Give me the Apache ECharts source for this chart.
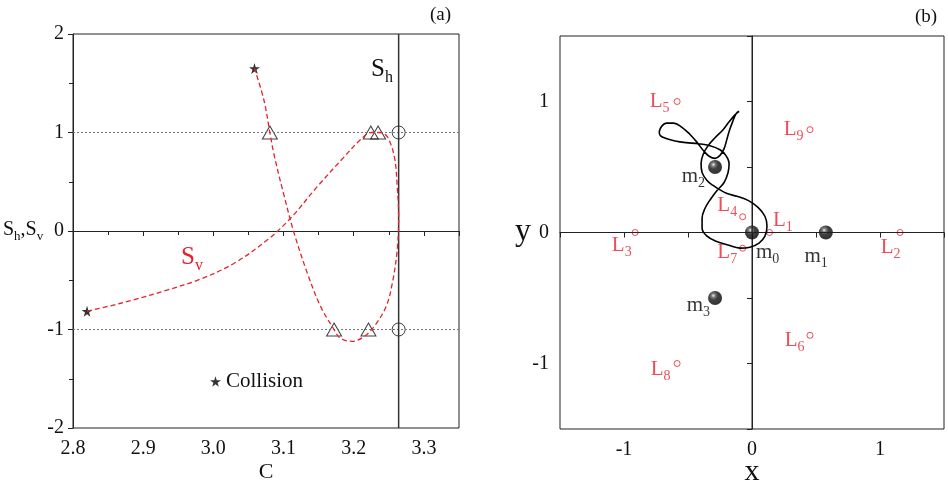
<!DOCTYPE html>
<html>
<head>
<meta charset="utf-8">
<script src="https://cdn.jsdelivr.net/npm/echarts@6/dist/echarts.min.js"></script>
<style>
  html, body { margin: 0; padding: 0; background: #fff; }
  #chart { width: 948px; height: 481px; }
</style>
</head>
<body>
<div id="chart"></div>
<script>
// ---- panel (a): S_v curve against C ----
const svCurve = [
  [2.82, -0.814], [2.85, -0.765], [2.886, -0.70], [2.934, -0.60], [2.981, -0.49],
  [3.029, -0.33], [3.077, -0.09], [3.110, 0.13], [3.148, 0.45], [3.186, 0.75],
  [3.210, 0.93], [3.225, 1.0], [3.238, 1.0], [3.248, 0.955], [3.258, 0.75],
  [3.262, 0.45], [3.264, 0.145], [3.262, -0.19], [3.255, -0.53], [3.246, -0.77],
  [3.229, -0.97], [3.215, -1.07], [3.198, -1.12], [3.181, -1.09], [3.172, -1.0],
  [3.153, -0.77], [3.134, -0.43], [3.115, -0.02], [3.100, 0.38], [3.086, 0.79],
  [3.0805, 1.0], [3.072, 1.33], [3.0586, 1.65]
];
const collisionPts = [[2.82, -0.814], [3.0586, 1.65]];
const triangleC = [3.0805, 3.2243, 3.2347, 3.172, 3.221];
const triangleS = [1, 1, 1, -1, -1];
const circleC = [3.264, 3.264];
const circleS = [1, -1];
const shC = 3.264;
const stabilityLevels = [1, -1];
const aRangeC = [2.8, 3.35];
const aRangeS = [-2, 2];

// ---- panel (b): orbit in the x-y plane ----
const orbit = [
  [-0.725, 0.769], [-0.705, 0.812], [-0.668, 0.835], [-0.612, 0.835], [-0.550, 0.805],
  [-0.486, 0.750], [-0.429, 0.688], [-0.382, 0.628], [-0.335, 0.582], [-0.289, 0.566],
  [-0.250, 0.589], [-0.218, 0.640], [-0.195, 0.716], [-0.172, 0.792], [-0.148, 0.853],
  [-0.125, 0.906], [-0.101, 0.925], [-0.133, 0.898], [-0.179, 0.845], [-0.226, 0.784],
  [-0.289, 0.723], [-0.343, 0.663], [-0.382, 0.595], [-0.398, 0.526], [-0.390, 0.458],
  [-0.351, 0.397], [-0.304, 0.359], [-0.257, 0.329], [-0.195, 0.298], [-0.117, 0.276],
  [-0.031, 0.245], [0.047, 0.192], [0.101, 0.124], [0.117, 0.048], [0.101, -0.028],
  [0.055, -0.081], [-0.016, -0.112], [-0.094, -0.119], [-0.187, -0.096], [-0.281, -0.066],
  [-0.351, -0.028], [-0.390, 0.033], [-0.390, 0.109], [-0.367, 0.185], [-0.320, 0.260],
  [-0.273, 0.321], [-0.218, 0.382], [-0.187, 0.458], [-0.179, 0.526], [-0.203, 0.587],
  [-0.250, 0.632], [-0.328, 0.663], [-0.421, 0.678], [-0.515, 0.686], [-0.601, 0.699],
  [-0.671, 0.718], [-0.716, 0.740], [-0.725, 0.769]
];
const massNames = ["0", "1", "2", "3"];
const massX = [0, 0.577, -0.2887, -0.2887];
const massY = [0, 0, 0.5, -0.5];
const lagNames = ["1", "2", "3", "4", "5", "6", "7", "8", "9"];
const lagX = [0.137, 1.157, -0.913, -0.073, -0.585, 0.453, -0.073, -0.585, 0.453];
const lagY = [0, 0, 0, 0.12, 1.0, -0.785, -0.12, -1.0, 0.785];
const bRange = [-1.5, 1.5];

// label placement: [position, distance, offset]
const lagLabelPlace = {
  "1": ["right", 0, [0, -12]],
  "2": ["left", -4, [0, 15]],
  "3": ["left", 0, [0, 13]],
  "4": ["left", 2, [0, -11]],
  "5": ["left", 4, [0, 0]],
  "6": ["left", 2, [0, 5]],
  "7": ["left", 2, [0, 4]],
  "8": ["left", 3, [0, 6]],
  "9": ["left", 3, [0, 0]]
};
const massLabelPlace = {
  "0": ["right", -3, [0, 20]],
  "1": ["left", -9, [0, 24]],
  "2": ["left", 3, [0, 9]],
  "3": ["left", -2, [0, 7]]
};

const FONT = "Liberation Serif";
const RED = "#e8202e";
const STAR = "path://M50,0 L61,35 L98,35 L68,57 L79,91 L50,70 L21,91 L32,57 L2,35 L39,35 Z";

// rich styles for series labels (use color)
function subRich(size, subSize, color) {
  return {
    a: { fontFamily: FONT, fontSize: size, lineHeight: size + 7, color: color, verticalAlign: "middle" },
    s: { fontFamily: FONT, fontSize: subSize, lineHeight: subSize, color: color, verticalAlign: "bottom" }
  };
}
// rich styles for graphic text (use fill)
function subRichG(size, subSize, color) {
  return {
    a: { fontFamily: FONT, fontSize: size, lineHeight: size + 7, fill: color, verticalAlign: "middle" },
    s: { fontFamily: FONT, fontSize: subSize, lineHeight: subSize, fill: color, verticalAlign: "bottom" }
  };
}

const chart = echarts.init(document.getElementById("chart"));

const axisCommon = {
  axisLine: { show: true, lineStyle: { color: "#222", width: 1 } },
  axisTick: { show: true, inside: false, length: 5, lineStyle: { color: "#222" } },
  splitLine: { show: false },
  axisLabel: { fontFamily: FONT, fontSize: 20, color: "#111", margin: 9 }
};

const option = {
  animation: false,
  backgroundColor: "#fff",
  grid: [
    { left: 73, top: 34, width: 386, height: 394, outerBoundsMode: "none", show: true, borderColor: "#222", borderWidth: 1 },
    { left: 560, top: 36, width: 384, height: 393, outerBoundsMode: "none", show: true, borderColor: "#222", borderWidth: 1 }
  ],
  legend: {
    data: [{ name: "Collision", icon: STAR }],
    left: 205,
    top: 366,
    itemWidth: 11,
    itemHeight: 11,
    textStyle: { fontFamily: FONT, fontSize: 21, color: "#111" }
  },
  xAxis: [
    Object.assign({}, axisCommon, {
      gridIndex: 0, type: "value", min: aRangeC[0], max: aRangeC[1], interval: 0.1,
      minorTick: { show: true, splitNumber: 2, length: 4, lineStyle: { color: "#222" } },
      axisLabel: Object.assign({}, axisCommon.axisLabel, {
        margin: 11,
        formatter: v => (Math.abs(v - aRangeC[1]) < 1e-6 ? "" : v.toFixed(1))
      }),
      name: "C", nameLocation: "middle", nameGap: 33, nameMoveOverlap: false,
      nameTextStyle: { fontFamily: FONT, fontSize: 22, color: "#111" }
    }),
    Object.assign({}, axisCommon, {
      gridIndex: 1, type: "value", min: bRange[0], max: bRange[1], interval: 0.5,
      axisLabel: Object.assign({}, axisCommon.axisLabel, {
        margin: 11,
        formatter: v => (Math.abs(v - Math.round(v)) < 1e-6 ? String(Math.round(v)) : "")
      }),
      name: "x", nameLocation: "middle", nameGap: 28, nameMoveOverlap: false,
      nameTextStyle: { fontFamily: FONT, fontSize: 30, color: "#111" }
    })
  ],
  yAxis: [
    Object.assign({}, axisCommon, {
      gridIndex: 0, type: "value", min: aRangeS[0], max: aRangeS[1], interval: 1,
      minorTick: { show: true, splitNumber: 2, length: 4, lineStyle: { color: "#222" } }
    }),
    Object.assign({}, axisCommon, {
      gridIndex: 1, type: "value", min: bRange[0], max: bRange[1], interval: 0.5,
      axisLabel: Object.assign({}, axisCommon.axisLabel, {
        margin: 11,
        formatter: v => (Math.abs(v - Math.round(v)) < 1e-6 ? String(Math.round(v)) : "")
      })
    })
  ],
  graphic: [
    { type: "text", left: 430, top: 6, style: { text: "(a)", fontFamily: FONT, fontSize: 19, fill: "#111" } },
    { type: "text", left: 915, top: 8, style: { text: "(b)", fontFamily: FONT, fontSize: 19, fill: "#111" } },
    {
      type: "text", left: 3, top: 220,
      style: { text: "{a|S}{s|h}{a|,S}{s|v}", rich: subRichG(20, 13, "#111") }
    },
    {
      type: "text", left: 371, top: 57,
      style: { text: "{a|S}{s|h}", rich: subRichG(25, 16, "#111") }
    },
    {
      type: "text", left: 181, top: 245,
      style: { text: "{a|S}{s|v}", rich: subRichG(25, 16, RED) }
    },
    { type: "text", left: 515, top: 216, style: { text: "y", fontFamily: FONT, fontSize: 32, fill: "#111" } }
  ],
  series: [
    {
      type: "line", xAxisIndex: 0, yAxisIndex: 0, symbol: "none", silent: true,
      data: [[aRangeC[0], stabilityLevels[0]], [aRangeC[1], stabilityLevels[0]]],
      lineStyle: { color: "#777", width: 1, type: [2, 2] }
    },
    {
      type: "line", xAxisIndex: 0, yAxisIndex: 0, symbol: "none", silent: true,
      data: [[aRangeC[0], stabilityLevels[1]], [aRangeC[1], stabilityLevels[1]]],
      lineStyle: { color: "#777", width: 1, type: [2, 2] }
    },
    {
      type: "line", xAxisIndex: 0, yAxisIndex: 0, symbol: "none", silent: true,
      data: [[shC, aRangeS[0]], [shC, aRangeS[1]]],
      lineStyle: { color: "#333", width: 1.5 }
    },
    {
      type: "line", xAxisIndex: 0, yAxisIndex: 0, symbol: "none", smooth: 0.35, silent: true,
      data: svCurve,
      lineStyle: { color: RED, width: 1.3, type: [5, 3] }
    },
    {
      type: "scatter", xAxisIndex: 0, yAxisIndex: 0, symbol: "triangle", symbolSize: [15, 13],
      data: triangleC.map((c, i) => [c, triangleS[i]]),
      itemStyle: { color: "rgba(0,0,0,0)", borderColor: "#111", borderWidth: 1 }
    },
    {
      type: "scatter", xAxisIndex: 0, yAxisIndex: 0, symbol: "circle", symbolSize: 13,
      data: circleC.map((c, i) => [c, circleS[i]]),
      itemStyle: { color: "rgba(0,0,0,0)", borderColor: "#111", borderWidth: 1 }
    },
    {
      name: "Collision",
      type: "scatter", xAxisIndex: 0, yAxisIndex: 0, symbol: STAR, symbolSize: 11,
      data: collisionPts,
      itemStyle: { color: "#000" }
    },
    // panel (b)
    {
      type: "line", xAxisIndex: 1, yAxisIndex: 1, symbol: "none", silent: true,
      data: [[bRange[0], 0], [bRange[1], 0]],
      lineStyle: { color: "#222", width: 1 }
    },
    {
      type: "line", xAxisIndex: 1, yAxisIndex: 1, symbol: "none", silent: true,
      data: [[0, bRange[0]], [0, bRange[1]]],
      lineStyle: { color: "#222", width: 1 }
    },
    {
      type: "line", xAxisIndex: 1, yAxisIndex: 1, symbol: "none", smooth: 0.4, silent: true,
      data: orbit,
      lineStyle: { color: "#000", width: 1.6 }
    },
    {
      type: "scatter", xAxisIndex: 1, yAxisIndex: 1, symbol: "circle", symbolSize: 6,
      itemStyle: { color: "#fff", borderColor: RED, borderWidth: 1 },
      data: lagNames.map((n, i) => {
        const p = lagLabelPlace[n];
        return {
          value: [lagX[i], lagY[i]],
          label: {
            show: true, position: p[0], distance: p[1], offset: p[2],
            formatter: "{a|L}{s|" + n + "}",
            rich: subRich(21, 14, RED)
          }
        };
      })
    },
    {
      type: "scatter", xAxisIndex: 1, yAxisIndex: 1, symbol: "circle", symbolSize: 14,
      itemStyle: {
        color: {
          type: "radial", x: 0.38, y: 0.33, r: 0.7,
          colorStops: [
            { offset: 0, color: "#f4f4f4" },
            { offset: 0.18, color: "#666666" },
            { offset: 0.45, color: "#111111" },
            { offset: 1, color: "#000000" }
          ]
        }
      },
      data: massNames.map((n, i) => {
        const p = massLabelPlace[n];
        return {
          value: [massX[i], massY[i]],
          label: {
            show: true, position: p[0], distance: p[1], offset: p[2],
            formatter: "{a|m}{s|" + n + "}",
            rich: subRich(21, 14, "#000")
          }
        };
      })
    }
  ]
};

chart.setOption(option);
</script>
</body>
</html>
